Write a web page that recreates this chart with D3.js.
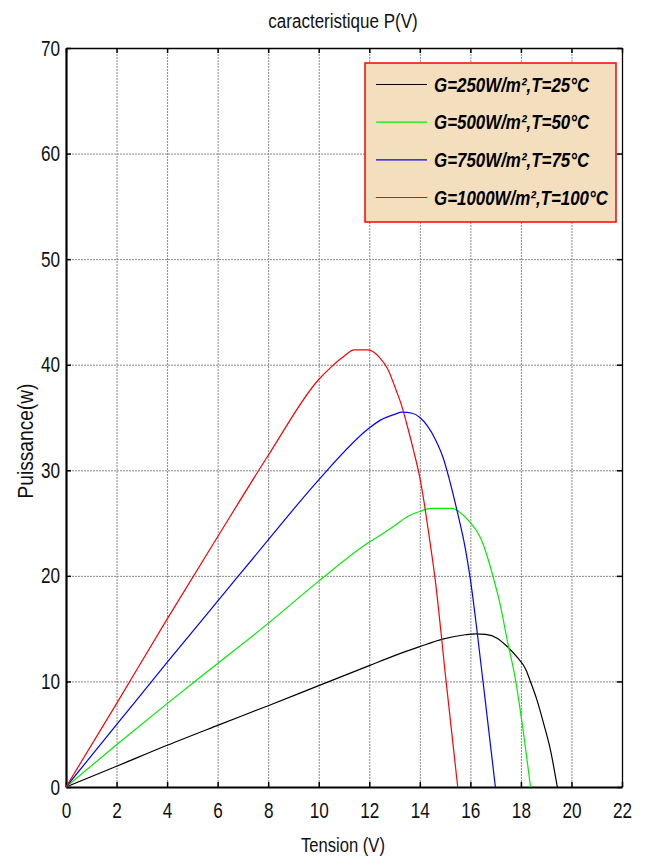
<!DOCTYPE html>
<html>
<head>
<meta charset="utf-8">
<script src="https://cdn.jsdelivr.net/npm/d3@7"></script>
<style>
  html, body { margin: 0; padding: 0; background: #fff; }
  svg { display: block; }
  text { font-family: "Liberation Sans", Arial, sans-serif; }
</style>
</head>
<body>
<svg id="chart" width="648" height="861"></svg>
<script>
// P(V) characteristic of a PV module for four irradiance/temperature pairs
const seriesNames = [
  "G=250W/m²,T=25°C",
  "G=500W/m²,T=50°C",
  "G=750W/m²,T=75°C",
  "G=1000W/m²,T=100°C"
];
const seriesColors = ["#000000", "#00ee00", "#0000ff", "#ff0000"];

const v250  = [0, 2, 4, 6, 8, 10, 12, 13, 14, 14.9, 15.8, 16.2, 16.6, 17.06, 17.46, 17.85, 18.18, 18.36, 18.64, 18.9, 19.17, 19.44];
const p250  = [0, 1.96, 3.95, 5.84, 7.7, 9.6, 11.5, 12.45, 13.3, 14.0, 14.42, 14.5, 14.45, 14.1, 13.3, 12.3, 11.2, 10.1, 8.2, 6.0, 3.5, 0];

const v500  = [0, 2, 4, 6, 8, 10, 12, 12.5, 13.0, 13.5, 14.0, 14.42, 15.28, 15.54, 15.94, 16.4, 16.66, 16.9, 17.15, 17.46, 17.79, 18.05, 18.38];
const p500  = [0, 4.0, 7.9, 11.7, 15.5, 19.5, 23.2, 23.95, 24.75, 25.6, 26.1, 26.4, 26.4, 26.1, 25.2, 23.6, 21.9, 19.9, 17.6, 13.9, 10.1, 6.0, 0];

const v750  = [0, 2, 4, 6, 8, 10, 12, 12.44, 13.0, 13.3, 13.7, 14.0, 14.3, 14.62, 14.95, 15.15, 15.48, 15.8, 15.98, 16.5, 16.99];
const p750  = [0, 5.9, 11.8, 17.6, 23.4, 29.1, 34.0, 34.75, 35.3, 35.5, 35.4, 35.0, 34.2, 32.9, 31.0, 29.3, 26.1, 22.6, 20.0, 10.0, 0];

const v1000 = [0, 2, 4, 6, 8, 10, 10.5, 11, 11.4, 11.95, 12.4, 12.73, 13.06, 13.23, 13.56, 13.76, 14.0, 14.16, 14.36, 14.59, 15.04, 15.5];
const p1000 = [0, 7.9, 15.9, 23.7, 31.4, 38.6, 39.8, 40.8, 41.4, 41.4, 40.7, 39.6, 37.6, 36.5, 33.7, 31.8, 29.3, 27.1, 23.9, 20.0, 10.0, 0];

const xTicks = [0, 2, 4, 6, 8, 10, 12, 14, 16, 18, 20, 22];
const yTicks = [0, 10, 20, 30, 40, 50, 60, 70];

const voltages = [v250, v500, v750, v1000];
const powers   = [p250, p500, p750, p1000];
const series = seriesNames.map((name, i) => ({
  name,
  color: seriesColors[i],
  points: voltages[i].map((v, j) => ({ v, p: powers[i][j] }))
}));

const svg = d3.select("#chart");
const plotLeft = 66, plotRight = 622, plotTop = 48, plotBottom = 787;

const x = d3.scaleLinear().domain([0, 22]).range([plotLeft, plotRight]);
const y = d3.scaleLinear().domain([0, 70]).range([plotBottom, plotTop]);

// condensed lettering: squeeze each text node horizontally
function condense(sel, factor) {
  sel.each(function () {
    const len = this.getComputedTextLength();
    d3.select(this).attr("textLength", len * factor).attr("lengthAdjust", "spacingAndGlyphs");
  });
}

// grid
const grid = svg.append("g").attr("stroke", "#888").attr("stroke-width", 1).attr("stroke-dasharray", "2,1");
grid.selectAll("line.gx").data(xTicks.slice(1, -1)).join("line")
  .attr("x1", d => x(d) + 0.5).attr("x2", d => x(d) + 0.5).attr("y1", plotTop).attr("y2", plotBottom);
grid.selectAll("line.gy").data(yTicks.slice(1, -1)).join("line")
  .attr("y1", d => y(d) + 0.5).attr("y2", d => y(d) + 0.5).attr("x1", plotLeft).attr("x2", plotRight);

// axes with inward ticks
const axB = svg.append("g").attr("transform", `translate(0,${plotBottom})`)
  .call(d3.axisBottom(x).tickValues(xTicks).tickSizeInner(-5).tickSizeOuter(0).tickPadding(15.5));
const axT = svg.append("g").attr("transform", `translate(0,${plotTop})`)
  .call(d3.axisTop(x).tickValues(xTicks).tickSizeInner(-5).tickSizeOuter(0).tickFormat(""));
const axL = svg.append("g").attr("transform", `translate(${plotLeft},0)`)
  .call(d3.axisLeft(y).tickValues(yTicks).tickSizeInner(-5).tickSizeOuter(0).tickPadding(6));
const axR = svg.append("g").attr("transform", `translate(${plotRight},0)`)
  .call(d3.axisRight(y).tickValues(yTicks).tickSizeInner(-5).tickSizeOuter(0).tickFormat(""));

[axB, axL].forEach(a => {
  a.select(".domain").attr("stroke", "#000").attr("stroke-width", 2.2);
  a.selectAll(".tick line").attr("stroke", "#000").attr("stroke-width", 1.5);
  a.selectAll(".tick text").attr("fill", "#111")
    .style("font-family", '"Liberation Sans", Arial, sans-serif')
    .style("font-size", "22px")
    .call(condense, 0.78);
});
[axT, axR].forEach(a => {
  a.select(".domain").attr("stroke", "#000").attr("stroke-width", 1.3);
  a.selectAll(".tick line").attr("stroke", "#000").attr("stroke-width", 1.5);
});

// curves
const line = d3.line().x(d => x(d.v)).y(d => y(d.p)).curve(d3.curveMonotoneX);
svg.append("g").selectAll("path").data(series).join("path")
  .attr("fill", "none")
  .attr("stroke", d => d.color)
  .attr("stroke-width", 1.2)
  .attr("d", d => line(d.points));

// title and axis labels
svg.append("text").attr("x", 343).attr("y", 28).attr("text-anchor", "middle")
  .style("font-size", "20px").attr("fill", "#111").text("caracteristique P(V)")
  .call(condense, 0.85);
svg.append("text").attr("x", 343).attr("y", 852).attr("text-anchor", "middle")
  .style("font-size", "20px").attr("fill", "#111").text("Tension (V)")
  .call(condense, 0.83);
svg.append("text").attr("transform", "translate(33,441) rotate(-90)").attr("text-anchor", "middle")
  .style("font-size", "22px").attr("fill", "#111").text("Puissance(w)")
  .call(condense, 0.87);

// legend
const lg = svg.append("g");
lg.append("rect").attr("x", 365).attr("y", 63).attr("width", 251).attr("height", 159)
  .attr("fill", "#f3dfbd").attr("stroke", "#ff0000").attr("stroke-width", 1.5);
const rowY = d3.scalePoint().domain(seriesNames).range([84.5, 197.5]);
const rows = lg.selectAll("g.row").data(series).join("g").attr("class", "row")
  .attr("transform", d => `translate(0,${rowY(d.name)})`);
rows.append("line").attr("x1", 376).attr("x2", 427).attr("y1", 0).attr("y2", 0)
  .attr("stroke", d => d.color).attr("stroke-width", 1.1);
rows.append("text").attr("x", 434).attr("y", 7)
  .style("font-size", "20px").style("font-weight", "bold").style("font-style", "italic")
  .attr("fill", "#000").text(d => d.name)
  .call(condense, 0.845);
</script>
</body>
</html>
